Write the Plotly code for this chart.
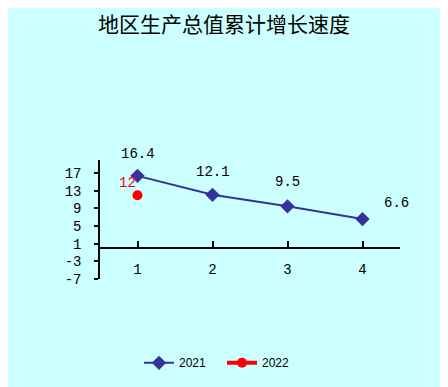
import plotly.graph_objects as go

categories = [1, 2, 3, 4]
values_2021 = [16.4, 12.1, 9.5, 6.6]
categories_2022 = [1]
values_2022 = [12]
y_ticks = [-7, -3, 1, 5, 9, 13, 17]
title_text = "地区生产总值累计增长速度"

mono = "Liberation Mono, DejaVu Sans Mono, monospace"
blue = "#333399"
red = "#FF0000"
bg = "#CCFFFF"

fig = go.Figure()
fig.add_trace(go.Scatter(
    x=categories, y=values_2021, name="2021", mode="lines+markers",
    line=dict(color=blue, width=2),
    marker=dict(symbol="diamond", size=11, color=blue),
))
fig.add_trace(go.Scatter(
    x=categories_2022, y=values_2022, name="2022", mode="lines+markers",
    line=dict(color=red, width=4),
    marker=dict(symbol="circle", size=10, color=red),
))

# data labels
offsets = [(0, 22), (0, 23), (0, 24), (34, 16)]
for c, v, (dx, dy) in zip(categories, values_2021, offsets):
    fig.add_annotation(x=c, y=v, text=str(v), showarrow=False,
                       xshift=dx, yshift=dy,
                       font=dict(family=mono, size=14, color="#000000"))
for c, v in zip(categories_2022, values_2022):
    fig.add_annotation(x=c, y=v, text=str(v), showarrow=False,
                       xshift=-10, yshift=12,
                       font=dict(family=mono, size=14, color=red))

# page body has an 8px margin; figure sized to fill the rest of the window
W, H = 440, 379
ymin, ymax = -7, 20
fig.update_layout(
    width=W, height=H,
    margin=dict(l=92, r=48, t=152, b=107),
    paper_bgcolor=bg, plot_bgcolor=bg,
    title=dict(text=title_text, x=216 / W, xanchor="center", y=1 - 17 / H, yanchor="middle",
               font=dict(family="Noto Sans CJK SC", size=21, color="#000000")),
    showlegend=True,
    legend=dict(orientation="h", x=(214 - 92) / 300, xanchor="center", y=-0.69, yanchor="middle",
                entrywidth=38, entrywidthmode="pixels",
                font=dict(family="Liberation Sans, Arial", size=12, color="#000000"),
                bgcolor="rgba(0,0,0,0)"),
    xaxis=dict(range=[0.5, 4.5], tickvals=categories, ticktext=[str(c) for c in categories],
               anchor="free", position=(0 - ymin) / (ymax - ymin),
               showline=True, linecolor="#000000", linewidth=1.5,
               ticks="inside", ticklen=6, tickcolor="#000000", tickwidth=1.5,
               tickson="boundaries", showgrid=False, zeroline=False,
               ticklabelstandoff=8,
               tickfont=dict(family=mono, size=14, color="#000000")),
    yaxis=dict(range=[ymin, ymax], tickvals=y_ticks, ticktext=[str(t) for t in y_ticks],
               showline=True, linecolor="#000000", linewidth=1.5,
               ticks="outside", ticklen=4, tickcolor="#000000", tickwidth=1.5,
               showgrid=False, zeroline=False, ticklabelstandoff=10,
               tickfont=dict(family=mono, size=14, color="#000000")),
)

fig.write_html("out.html")
